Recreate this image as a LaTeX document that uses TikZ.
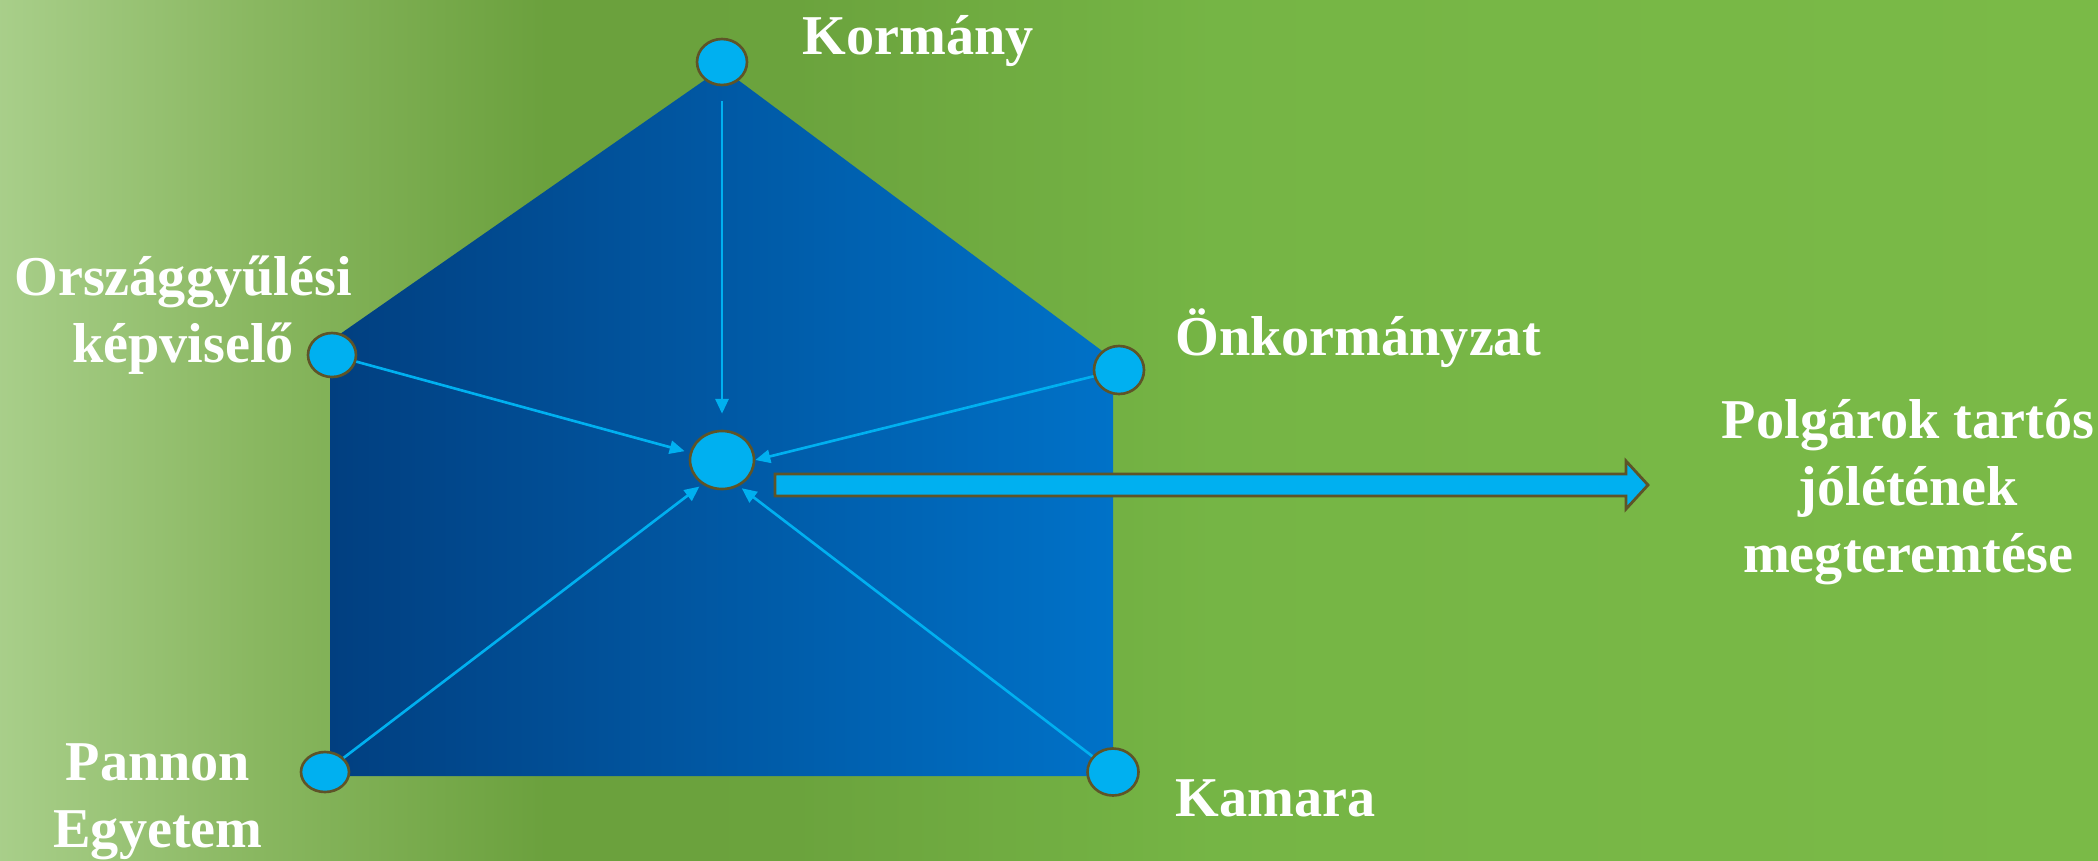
\documentclass[tikz,border=0pt]{standalone}
\usepackage{fontspec}
\setmainfont{Liberation Serif}
\usetikzlibrary{arrows.meta,positioning,shapes.geometric}

\definecolor{pontkek}{HTML}{00B0F0}
\definecolor{keret}{HTML}{5E5428}
\definecolor{sotetkek}{HTML}{013F80}
\definecolor{vilagoskek}{HTML}{0072C8}

\pgfdeclarehorizontalshading{hatter}{100bp}{%
  rgb(0bp)=(.66,.81,.54); rgb(25bp)=(.66,.81,.54); rgb(31bp)=(.54,.72,.38);
  rgb(38bp)=(.42,.63,.24); rgb(44bp)=(.42,.64,.24); rgb(54bp)=(.46,.71,.27);
  rgb(75bp)=(.48,.73,.28); rgb(100bp)=(.48,.73,.28)}

\begin{document}
\begin{tikzpicture}[x=0.02cm, y=-0.02cm,
    pont/.style={ellipse, draw=keret, fill=pontkek, line width=1.5pt, inner sep=0pt},
    nyil/.style={draw=pontkek, line width=1.5pt, -{Triangle[length=8.5pt,width=7.5pt]}},
    felirat/.style={text=white, font=\bfseries\fontsize{32}{38}\selectfont, inner sep=0pt, align=center}]
    % hatter es az otszog
    \shade[shading=hatter] (0,0) rectangle (2098,860);
    \shade[left color=sotetkek, right color=vilagoskek] (330,341) -- (722,68) -- (1113,359) -- (1113,776) -- (330,776) -- cycle;

    \node[pont, minimum width=1.0cm, minimum height=0.92cm] (kormany) at (722,62) {};
    \node[pont, minimum width=0.96cm, minimum height=0.88cm] (kepviselo) at (332,355) {};
    \node[pont, minimum width=1.0cm, minimum height=0.96cm] (onkorm) at (1119,370) {};
    \node[pont, minimum width=0.96cm, minimum height=0.8cm] (pannon) at (325,772) {};
    \node[pont, minimum width=1.02cm, minimum height=0.94cm] (kamara) at (1113,772) {};
    \node[pont, minimum width=1.28cm, minimum height=1.16cm] (kozep) at (722,460) {};

    \draw[nyil, shorten <=0.3cm, shorten >=0.32cm] (kormany) -- (kozep);
    \draw[nyil, shorten >=3pt] (kepviselo) -- (kozep.167);
    \draw[nyil] (onkorm) -- (kozep.east);
    \draw[nyil, shorten >=2pt] (pannon) -- (kozep.231);
    \draw[nyil, shorten >=2pt] (kamara) -- (kozep.303);

    % nagy nyil
    \filldraw[draw=keret, fill=pontkek, line width=1.6pt, line join=miter]
      (775,474) -- (1626,474) -- (1626,461) -- (1648,485) -- (1626,509) -- (1626,496) -- (775,496) -- cycle;

    \node[felirat, anchor=base west] (kormanyszoveg) at (802,54) {Kormány};
    \node[felirat, anchor=base] (kepviseloszoveg) at (183,362) {Országgyűlési\\képviselő};
    \node[felirat, anchor=base west] (onkormszoveg) at (1175,355) {Önkormányzat};
    \node[felirat, anchor=base] (polgarok) at (1908,572) {Polgárok tartós\\jólétének\\megteremtése};
    \node[felirat, anchor=base] (pannonszoveg) at (158,847) {Pannon\\Egyetem};
    \node[felirat, anchor=base west] (kamaraszoveg) at (1175,816) {Kamara};
\end{tikzpicture}
\end{document}
